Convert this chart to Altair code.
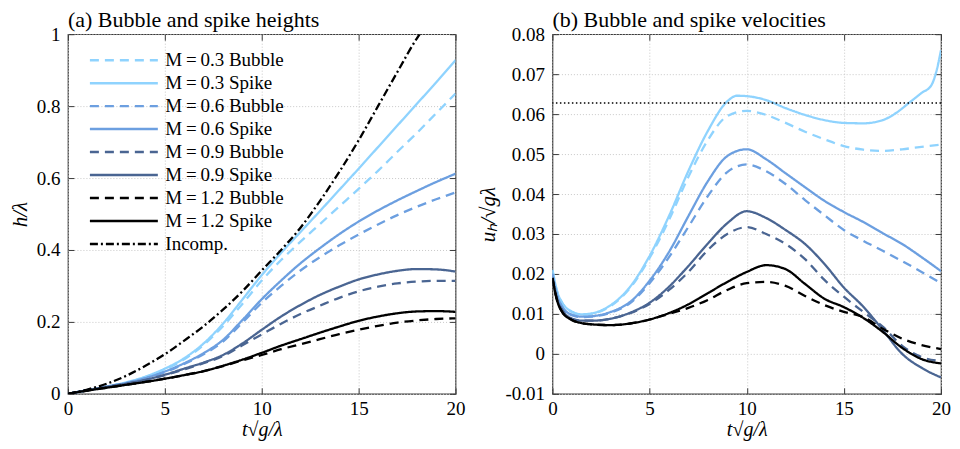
import altair as alt
import pandas as pd

# ---------------- (a) heights ----------------
t_h = list(range(21))
h_m03_bubble = [0, 0.010, 0.020, 0.031, 0.046, 0.067, 0.096, 0.136, 0.188, 0.250, 0.315, 0.372, 0.423, 0.472, 0.521, 0.570, 0.620, 0.673, 0.725, 0.780, 0.835]
h_m03_spike = [0, 0.010, 0.020, 0.032, 0.048, 0.070, 0.099, 0.140, 0.195, 0.262, 0.330, 0.392, 0.450, 0.508, 0.567, 0.626, 0.686, 0.746, 0.806, 0.866, 0.928]
h_m06_bubble = [0, 0.010, 0.020, 0.030, 0.043, 0.060, 0.083, 0.110, 0.145, 0.198, 0.253, 0.300, 0.343, 0.380, 0.413, 0.443, 0.471, 0.497, 0.520, 0.541, 0.560]
h_m06_spike = [0, 0.010, 0.020, 0.030, 0.044, 0.062, 0.085, 0.113, 0.150, 0.205, 0.263, 0.315, 0.363, 0.405, 0.444, 0.479, 0.510, 0.538, 0.564, 0.589, 0.612]
h_m09_bubble = [0, 0.010, 0.019, 0.028, 0.038, 0.052, 0.068, 0.085, 0.105, 0.135, 0.165, 0.195, 0.222, 0.245, 0.267, 0.285, 0.298, 0.307, 0.312, 0.314, 0.314]
h_m09_spike = [0, 0.010, 0.019, 0.028, 0.039, 0.053, 0.070, 0.087, 0.108, 0.140, 0.178, 0.215, 0.247, 0.275, 0.298, 0.318, 0.332, 0.342, 0.347, 0.346, 0.340]
h_m12_bubble = [0, 0.009, 0.017, 0.025, 0.033, 0.042, 0.052, 0.063, 0.077, 0.093, 0.108, 0.124, 0.138, 0.152, 0.166, 0.178, 0.189, 0.198, 0.204, 0.208, 0.210]
h_m12_spike = [0, 0.009, 0.017, 0.025, 0.033, 0.042, 0.052, 0.063, 0.078, 0.095, 0.114, 0.134, 0.152, 0.170, 0.187, 0.203, 0.215, 0.224, 0.229, 0.230, 0.228]
t_inc = [0, 1, 2, 3, 4, 5, 6, 7, 8, 9, 10, 11, 12, 13, 14, 15, 16, 17, 18, 18.15]
h_inc = [0, 0.012, 0.028, 0.050, 0.078, 0.110, 0.148, 0.188, 0.234, 0.285, 0.343, 0.400, 0.462, 0.536, 0.617, 0.705, 0.800, 0.895, 0.988, 1.0]

# ---------------- (b) velocities ----------------
t_u = [0, 0.25, 0.5, 1, 1.5, 2, 3, 4, 5, 6, 7, 8, 9, 10, 11, 12, 13, 14, 15, 16, 17, 18, 19, 20]
t_u03s = [0, 0.25, 0.5, 1, 1.5, 2, 3, 4, 5, 6, 7, 8, 9, 9.5, 10, 11, 12, 13, 14, 15, 16, 17, 17.6, 18.4, 19, 19.5, 19.75, 20]
u_m03_spike = [0.021, 0.0155, 0.0128, 0.0106, 0.0099, 0.0101, 0.0122, 0.0168, 0.0245, 0.0345, 0.0458, 0.0558, 0.0632, 0.0646, 0.0645, 0.0635, 0.0615, 0.0598, 0.0585, 0.0578, 0.0577, 0.0585, 0.0600, 0.0630, 0.0653, 0.0672, 0.0705, 0.0760]
u_m03_bubble = [0.021, 0.0155, 0.0128, 0.0105, 0.0098, 0.0100, 0.0120, 0.0165, 0.0240, 0.0335, 0.0443, 0.0535, 0.0595, 0.0608, 0.0598, 0.0578, 0.0556, 0.0537, 0.0520, 0.0511, 0.0508, 0.0512, 0.0518, 0.0524]
u_m06_spike = [0.020, 0.0145, 0.0118, 0.0098, 0.0093, 0.0094, 0.0105, 0.0130, 0.0183, 0.0255, 0.0345, 0.0432, 0.0495, 0.0512, 0.0487, 0.0452, 0.0417, 0.0383, 0.0355, 0.0330, 0.0302, 0.0275, 0.0242, 0.0207]
u_m06_bubble = [0.020, 0.0145, 0.0118, 0.0097, 0.0092, 0.0093, 0.0103, 0.0127, 0.0177, 0.0242, 0.0318, 0.0395, 0.0455, 0.0474, 0.0457, 0.0425, 0.0385, 0.0347, 0.0310, 0.0283, 0.0258, 0.0232, 0.0205, 0.0177]
u_m09_spike = [0.019, 0.0135, 0.0110, 0.0088, 0.0083, 0.0083, 0.0088, 0.0103, 0.0128, 0.0168, 0.0220, 0.0276, 0.0327, 0.0357, 0.0340, 0.0310, 0.0275, 0.0225, 0.0166, 0.0118, 0.0060, 0.0000, -0.0035, -0.0059]
u_m09_bubble = [0.019, 0.0135, 0.0110, 0.0088, 0.0083, 0.0083, 0.0088, 0.0102, 0.0125, 0.0160, 0.0205, 0.0260, 0.0300, 0.0317, 0.0300, 0.0275, 0.0237, 0.0185, 0.0143, 0.0105, 0.0068, 0.0020, -0.0008, -0.0018]
u_m12_spike = [0.019, 0.0132, 0.0105, 0.0085, 0.0077, 0.0074, 0.0072, 0.0076, 0.0086, 0.0102, 0.0124, 0.0152, 0.0180, 0.0205, 0.0222, 0.0212, 0.0175, 0.0138, 0.0117, 0.0090, 0.0055, 0.0015, -0.0013, -0.0024]
u_m12_bubble = [0.019, 0.0132, 0.0105, 0.0085, 0.0077, 0.0074, 0.0072, 0.0076, 0.0086, 0.0100, 0.0115, 0.0135, 0.0160, 0.0177, 0.0180, 0.0170, 0.0145, 0.0122, 0.0105, 0.0092, 0.0063, 0.0038, 0.0022, 0.0012]
u_ref = 0.0628

labels = ["M\u2009=\u20090.3 Bubble", "M\u2009=\u20090.3 Spike", "M\u2009=\u20090.6 Bubble", "M\u2009=\u20090.6 Spike",
          "M\u2009=\u20090.9 Bubble", "M\u2009=\u20090.9 Spike", "M\u2009=\u20091.2 Bubble", "M\u2009=\u20091.2 Spike", "Incomp."]
colors = ["#8fd3fe", "#8fd3fe", "#6c9fe0", "#6c9fe0", "#4a6592", "#4a6592", "#000000", "#000000", "#000000"]
dashes = [[9, 6], [1, 0], [9, 6], [1, 0], [9, 6], [1, 0], [9, 6], [1, 0], [8, 3, 2, 3]]

def long(series):
    rows = []
    for name, ts, vs in series:
        for t, v in zip(ts, vs):
            rows.append({"series": name, "t": t, "v": v})
    return pd.DataFrame(rows)

df_h = long([
    (labels[0], t_h, h_m03_bubble), (labels[1], t_h, h_m03_spike),
    (labels[2], t_h, h_m06_bubble), (labels[3], t_h, h_m06_spike),
    (labels[4], t_h, h_m09_bubble), (labels[5], t_h, h_m09_spike),
    (labels[6], t_h, h_m12_bubble), (labels[7], t_h, h_m12_spike),
    (labels[8], t_inc, h_inc),
])
df_u = long([
    (labels[0], t_u, u_m03_bubble), (labels[1], t_u03s, u_m03_spike),
    (labels[2], t_u, u_m06_bubble), (labels[3], t_u, u_m06_spike),
    (labels[4], t_u, u_m09_bubble), (labels[5], t_u, u_m09_spike),
    (labels[6], t_u, u_m12_bubble), (labels[7], t_u, u_m12_spike),
])

SERIF = "Liberation Serif"
FRAME = "#3a3a3a"
x_vals = [0, 5, 10, 15, 20]
xs = alt.Scale(domain=[0, 20], nice=False, zero=False)


def main_axes(y_vals, y_title):
    ax_x = alt.Axis(values=x_vals, title="t\u221Ag/\u03BB", titleFontStyle="italic", ticks=False, domain=False,
                    labelPadding=6, titlePadding=1, grid=True, gridDash=[1, 2], gridColor="#c8c8c8",
                    labelFlush=False, minExtent=0, titleFontSize=20)
    ax_y = alt.Axis(values=y_vals, title=y_title, titleFontStyle="italic", ticks=False, domain=False,
                    labelPadding=8, titlePadding=6, grid=True, gridDash=[1, 2], gridColor="#c8c8c8",
                    labelExpr="replace(format(datum.value, '~g'), '\u2212', '-')", labelFlush=False,
                    minExtent=0)
    return ax_x, ax_y


def tick_axis(orient, vals):
    return alt.Axis(orient=orient, values=vals, offset=-6, tickSize=6, tickColor=FRAME, tickWidth=1,
                    labels=False, domain=False, grid=False, title=None, minExtent=0, maxExtent=0)


def panel(df, y_vals, y_dom, y_title, title, legend, width, extra=None):
    ys = alt.Scale(domain=y_dom, nice=False, zero=False)
    ax_x, ax_y = main_axes(y_vals, y_title)
    cscale = alt.Scale(domain=labels, range=colors)
    dscale = alt.Scale(domain=labels, range=dashes)
    if legend:
        leg = alt.Legend(title=None, orient="none", legendX=43, legendY=13, symbolType="M-3,0H3",
                         symbolSize=514, symbolStrokeWidth=2.5, labelFont=SERIF, labelFontSize=19,
                         labelColor="black", labelOffset=28.5, rowPadding=0, padding=0, symbolLimit=0,
                         labelLimit=300)
    else:
        leg = None
    lines = alt.Chart(df).mark_line(strokeWidth=2.3, interpolate="monotone", clip=True).encode(
        x=alt.X("t:Q", scale=xs, axis=ax_x),
        y=alt.Y("v:Q", scale=ys, axis=ax_y),
        color=alt.Color("series:N", scale=cscale, legend=leg),
        strokeDash=alt.StrokeDash("series:N", scale=dscale, legend=leg),
    )
    ticks_tr = alt.Chart(df).mark_line(opacity=0, clip=True).encode(
        x=alt.X("t:Q", scale=xs, axis=tick_axis("top", x_vals)),
        y=alt.Y("v:Q", scale=ys, axis=tick_axis("right", y_vals)),
    )
    ticks_bl = alt.Chart(df).mark_line(opacity=0, clip=True).encode(
        x=alt.X("t:Q", scale=xs, axis=tick_axis("bottom", x_vals)),
        y=alt.Y("v:Q", scale=ys, axis=tick_axis("left", y_vals)),
    )
    layers = [lines, ticks_tr, ticks_bl]
    if extra is not None:
        layers.append(extra)
    return alt.layer(*layers).resolve_axis(x="independent", y="independent").properties(
        width=width, height=360,
        title=alt.TitleParams(title, anchor="start", frame="group", font=SERIF, fontSize=22,
                              fontWeight="normal", color="black", offset=-7),
    )


left = panel(df_h, [0, 0.2, 0.4, 0.6, 0.8, 1.0], [0, 1], "h/\u03BB", "(a) Bubble and spike heights", True, 388)

ref_rule = alt.Chart(pd.DataFrame({"v": [u_ref]})).mark_rule(
    color="black", strokeDash=[1.5, 2.5], strokeWidth=1.6
).encode(y=alt.Y("v:Q", scale=alt.Scale(domain=[-0.01, 0.08], nice=False, zero=False), axis=None))

right = panel(df_u, [-0.01, 0, 0.01, 0.02, 0.03, 0.04, 0.05, 0.06, 0.07, 0.08], [-0.01, 0.08],
              "u\u2095/\u221Ag\u03BB", "(b) Bubble and spike velocities", False, 389, extra=ref_rule)

chart = alt.hconcat(left, right, spacing=10).resolve_scale(color="independent", strokeDash="independent").configure_axis(
    labelFont=SERIF, labelFontSize=19, labelColor="black", titleFont=SERIF, titleFontSize=21,
    titleColor="black", titleFontWeight="normal"
).configure_view(stroke=FRAME, strokeWidth=1.2).properties(padding={"left": 0, "top": 0, "right": 0, "bottom": 0})

chart.save("out.html", embed_options={"renderer": "svg", "actions": False})
